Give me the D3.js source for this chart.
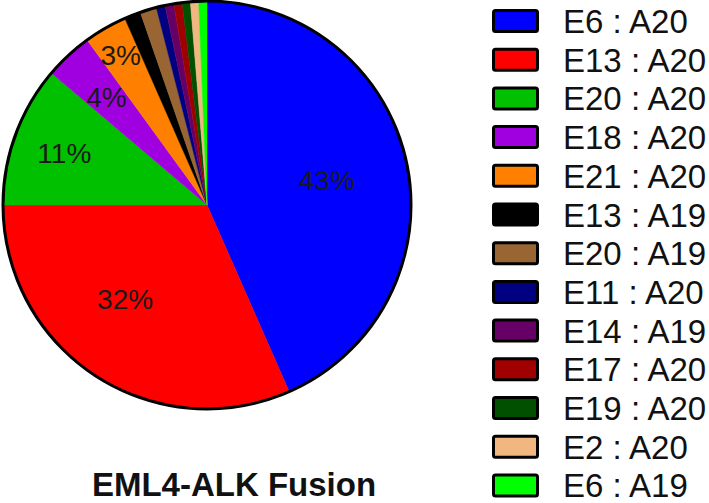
<!DOCTYPE html>
<html lang="en">

<head>
    <meta charset="UTF-8">
    <title>EML4-ALK Fusion</title>
    <script src="https://d3js.org/d3.v7.min.js"></script>
    <style>
        body {
            margin: 0;
            background: #fff;
        }

        text {
            font-family: "Liberation Sans", Arial, sans-serif;
        }
    </style>
</head>

<body>
    <script>
        // fusion variants, clockwise from 12 o'clock
        var variants = ["E6 : A20", "E13 : A20", "E20 : A20", "E18 : A20", "E21 : A20",
            "E13 : A19", "E20 : A19", "E11 : A20", "E14 : A19", "E17 : A20",
            "E19 : A20", "E2 : A20", "E6 : A19"];
        // share of cases (%)
        var shares = [43.4, 31.6, 11.2, 3.8, 3.4, 1.3, 1.3, 0.7, 0.7, 0.65, 0.65, 0.65, 0.65];
        var colors = ["#0000ff", "#ff0000", "#00c000", "#a000e0", "#ff8000",
            "#000000", "#996633", "#000080", "#660066", "#a00000",
            "#005000", "#f0b880", "#00ff00"];
        var title = "EML4-ALK Fusion";

        var width = 709, height = 503;
        var cx = 207, cy = 205, radius = 204;

        var svg = d3.select("body").append("svg")
            .attr("width", width)
            .attr("height", height);

        var data = variants.map(function (v, i) {
            return { name: v, value: shares[i], color: colors[i] };
        });

        var pie = d3.pie().sort(null).value(function (d) { return d.value; });
        var arc = d3.arc().innerRadius(0).outerRadius(radius);

        var g = svg.append("g")
            .attr("transform", "translate(" + cx + "," + cy + ")");

        var arcs = pie(data);

        g.selectAll("path.slice")
            .data(arcs)
            .enter().append("path")
            .attr("class", "slice")
            .attr("d", arc)
            .attr("fill", function (d) { return d.data.color; })
            .attr("stroke", function (d) { return d.data.color; })
            .attr("stroke-width", 0.5);

        // outer ring
        g.append("circle")
            .attr("r", radius)
            .attr("fill", "none")
            .attr("stroke", "#000")
            .attr("stroke-width", 3);

        // labels only for the bigger slices; small ones sit further out
        function labelFactor(v) {
            if (v > 40) return 0.6;
            if (v > 20) return 0.61;
            if (v > 5) return 0.745;
            if (v > 3.6) return 0.725;
            return 0.85;
        }

        g.selectAll("text.pct")
            .data(arcs.filter(function (d) { return d.data.value >= 3; }))
            .enter().append("text")
            .attr("class", "pct")
            .attr("transform", function (d) {
                var r = radius * labelFactor(d.data.value);
                // the red label sits a little past its mid angle
                var shift = d.data.value > 20 && d.data.value < 40 ? 0.14 : 0;
                var a = (d.startAngle + d.endAngle) / 2 + shift;
                return "translate(" + (r * Math.sin(a)) + "," + (-r * Math.cos(a)) + ")";
            })
            .attr("text-anchor", "middle")
            .attr("dy", "0.36em")
            .attr("font-size", 28)
            .attr("fill", "#1a1a1a")
            .text(function (d) { return Math.round(d.data.value) + "%"; });

        // legend
        var legend = svg.append("g").attr("transform", "translate(493,21)");
        var rowH = 38.7;

        var rows = legend.selectAll("g.row")
            .data(data)
            .enter().append("g")
            .attr("class", "row")
            .attr("transform", function (d, i) { return "translate(0," + (i * rowH) + ")"; });

        rows.append("rect")
            .attr("x", 0.5)
            .attr("y", -10.5)
            .attr("width", 44)
            .attr("height", 21)
            .attr("rx", 2)
            .attr("fill", function (d) { return d.color; })
            .attr("stroke", "#000")
            .attr("stroke-width", 3);

        rows.append("text")
            .attr("x", 70)
            .attr("y", 12)
            .attr("font-size", 33)
            .attr("fill", "#111")
            .text(function (d) { return d.name; });

        // title
        svg.append("text")
            .attr("x", 234)
            .attr("y", 496)
            .attr("text-anchor", "middle")
            .attr("font-size", 33)
            .attr("font-weight", "bold")
            .attr("fill", "#111")
            .text(title);
    </script>
</body>

</html>
